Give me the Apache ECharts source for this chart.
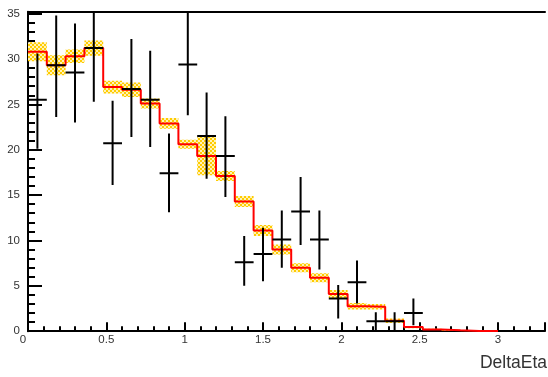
<!DOCTYPE html>
<html>
<head>
<meta charset="utf-8">
<title>DeltaEta</title>
<script src="https://cdn.jsdelivr.net/npm/echarts@6/dist/echarts.min.js"></script>
<style>
  html, body { margin: 0; padding: 0; background: #ffffff; }
  #chart { width: 548px; height: 377px; }
</style>
</head>
<body>
<div id="chart"></div>
<script>
// Histogram binning (DeltaEta)
const binWidth = 0.12;
const binCenters = [0.06, 0.18, 0.30, 0.42, 0.54, 0.66, 0.78, 0.90, 1.02, 1.14,
                    1.26, 1.38, 1.50, 1.62, 1.74, 1.86, 1.98, 2.10, 2.22, 2.34,
                    2.46, 2.58, 2.70, 2.82, 2.94];

// Expected distribution (red histogram) and its uncertainty (yellow band)
const mcValues = [30.8, 29.3, 30.3, 31.2, 26.9, 26.6, 25.1, 22.9, 20.6, 19.3,
                  17.1, 14.3, 11.1, 9.0, 7.0, 5.9, 4.1, 2.75, 2.7, 1.15,
                  0.45, 0.2, 0.1, 0.03, 0.02];
const mcErrors = [1.05, 1.1, 0.75, 0.85, 0.7, 0.8, 0.55, 0.6, 0.5, 2.1,
                  0.55, 0.6, 0.6, 0.55, 0.5, 0.5, 0.45, 0.35, 0.3, 0.25,
                  0.12, 0.08, 0.05, 0.03, 0.02];

// Measured points: value with lower / upper ends of the error bar (first 21 bins)
const dataValues = [25.5, 29.3, 28.5, 31.2, 20.7, 26.7, 25.5, 17.4, 29.4, 21.5,
                    19.3, 7.6, 8.5, 10.1, 13.2, 10.1, 3.6, 5.4, 1.1, 1.1, 2.0];
const dataLow    = [20.1, 23.6, 23.0, 25.3, 16.1, 21.4, 20.3, 13.1, 23.8, 16.8,
                    14.8, 5.0, 5.5, 7.0, 9.5, 6.8, 1.4, 3.05, 0.05, 0.05, 0.66];
const dataHigh   = [30.6, 34.8, 33.9, 37.0, 25.4, 32.2, 30.9, 21.8, 35.5, 26.3,
                    23.7, 10.5, 11.4, 13.3, 17.0, 13.3, 5.1, 7.8, 2.1, 2.1, 3.6];

// Axis ranges and tick steps
const xRange = [0, 3.3];
const yRange = [0, 35.2];
const xMajor = 0.5, xMinor = 0.1;
const yMajor = 5, yMinor = 1;
const axisTitle = 'DeltaEta';

// Dotted yellow fill used for the uncertainty band
function makeBandPattern() {
  const c = document.createElement('canvas');
  c.width = 4; c.height = 4;
  const g = c.getContext('2d');
  g.fillStyle = '#fff2b8';
  g.fillRect(0, 0, 4, 4);
  g.fillStyle = '#ffcc00';
  g.fillRect(0, 0, 2, 2);
  g.fillRect(2, 2, 2, 2);
  return { image: c, repeat: 'repeat' };
}
const bandPattern = makeBandPattern();

// Step outline of the expected histogram
const stepLine = [];
binCenters.forEach((c, i) => {
  stepLine.push([c - binWidth / 2, mcValues[i]]);
  stepLine.push([c + binWidth / 2, mcValues[i]]);
});

const bandData = binCenters.map((c, i) =>
  [c - binWidth / 2, c + binWidth / 2, mcValues[i] - mcErrors[i], mcValues[i] + mcErrors[i]]);

const pointData = dataValues.map((v, i) => [binCenters[i], v, dataLow[i], dataHigh[i]]);

const font = 'Liberation Sans';
const isMultiple = (v, step) => Math.abs(v / step - Math.round(v / step)) < 1e-6;

const chart = echarts.init(document.getElementById('chart'), null, { renderer: 'canvas' });

const lineBlack = { color: '#000000', width: 2 };

chart.setOption({
  animation: false,
  backgroundColor: '#ffffff',
  grid: { left: 28, top: 11.8, width: 522.5, height: 319.4, containLabel: false },
  xAxis: [
    {
      type: 'value', min: xRange[0], max: xRange[1], interval: xMajor, position: 'bottom',
      axisLine: { show: true, onZero: false, lineStyle: lineBlack },
      axisTick: { show: true, inside: true, length: 9, lineStyle: lineBlack },
      axisLabel: {
        show: true, margin: 3, fontSize: 11.5, color: '#333333', fontFamily: font,
        formatter: v => {
          if (!isMultiple(v, xMajor)) return '';
          return v === 0 ? '{z|0}' : String(+v.toFixed(1));
        },
        rich: { z: { fontSize: 11.5, color: '#333333', fontFamily: font, padding: [0, 10, 0, 0] } }
      },
      splitLine: { show: false }
    },
    {
      type: 'value', min: xRange[0], max: xRange[1], interval: xMinor, position: 'bottom',
      axisLine: { show: false },
      axisTick: { show: true, inside: true, length: 5, lineStyle: lineBlack },
      axisLabel: { show: false },
      splitLine: { show: false }
    },
    {
      type: 'value', min: xRange[0], max: xRange[1], position: 'top',
      axisLine: { show: true, onZero: false, lineStyle: lineBlack },
      axisTick: { show: false },
      axisLabel: { show: false },
      splitLine: { show: false }
    }
  ],
  yAxis: [
    {
      type: 'value', min: yRange[0], max: yRange[1], interval: yMajor, position: 'left',
      axisLine: { show: true, onZero: false, lineStyle: lineBlack },
      axisTick: { show: true, inside: true, length: 14, lineStyle: lineBlack },
      axisLabel: {
        show: true, margin: 8, fontSize: 11.5, color: '#333333', fontFamily: font,
        formatter: v => (isMultiple(v, yMajor) ? String(Math.round(v)) : '')
      },
      splitLine: { show: false }
    },
    {
      type: 'value', min: yRange[0], max: yRange[1], interval: yMinor, position: 'left',
      axisLine: { show: false },
      axisTick: { show: true, inside: true, length: 7, lineStyle: lineBlack },
      axisLabel: { show: false },
      splitLine: { show: false }
    }
  ],
  graphic: [
    {
      type: 'text', right: 1, top: 354.5,
      style: { text: axisTitle, font: '17.5px "Liberation Sans"', fill: '#333333' }
    }
  ],
  series: [
    {
      name: 'uncertainty', type: 'custom', xAxisIndex: 0, yAxisIndex: 0, clip: true, z: 1,
      silent: true,
      data: bandData,
      encode: { x: [0, 1], y: [2, 3] },
      renderItem: (params, api) => {
        const a = api.coord([api.value(0), api.value(3)]);
        const b = api.coord([api.value(1), api.value(2)]);
        return {
          type: 'rect',
          shape: { x: a[0], y: a[1], width: b[0] - a[0], height: b[1] - a[1] },
          style: { fill: bandPattern, stroke: null }
        };
      }
    },
    {
      name: 'expected', type: 'line', xAxisIndex: 0, yAxisIndex: 0, z: 2,
      data: stepLine, showSymbol: false, symbol: 'none', silent: true,
      lineStyle: { color: '#ff0000', width: 2 }
    },
    {
      name: 'data', type: 'custom', xAxisIndex: 0, yAxisIndex: 0, clip: true, z: 3,
      silent: true,
      data: pointData,
      encode: { x: 0, y: [1, 2, 3] },
      renderItem: (params, api) => {
        const c = api.value(0), v = api.value(1);
        const left = api.coord([c - binWidth / 2, v]);
        const right = api.coord([c + binWidth / 2, v]);
        const top = api.coord([c, api.value(3)]);
        const bottom = api.coord([c, api.value(2)]);
        const st = { stroke: '#000000', lineWidth: 2 };
        return {
          type: 'group',
          children: [
            { type: 'line', shape: { x1: left[0], y1: left[1], x2: right[0], y2: right[1] }, style: st },
            { type: 'line', shape: { x1: top[0], y1: top[1], x2: bottom[0], y2: bottom[1] }, style: st }
          ]
        };
      }
    }
  ]
});
</script>
</body>
</html>
